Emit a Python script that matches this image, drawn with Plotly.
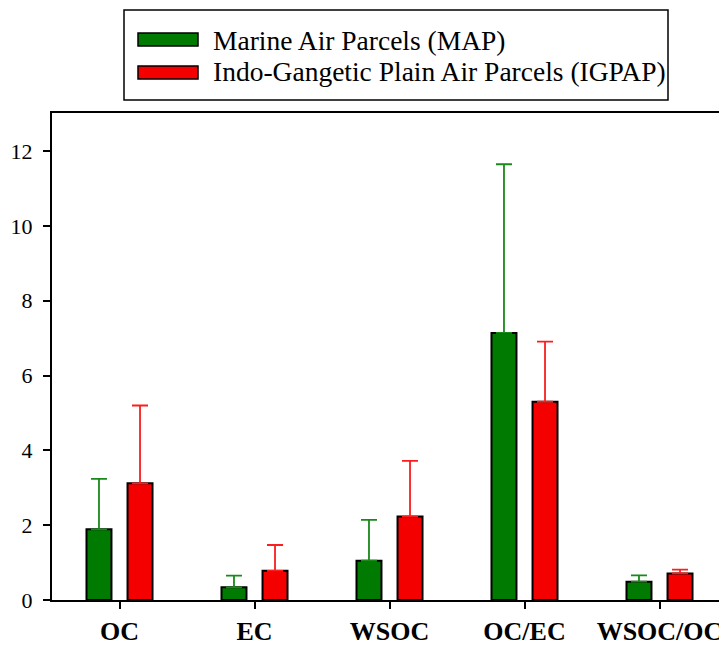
import plotly.graph_objects as go

categories = ["OC", "EC", "WSOC", "OC/EC", "WSOC/OC"]
map_values = [1.89, 0.34, 1.05, 7.14, 0.49]
map_errors = [1.35, 0.31, 1.09, 4.51, 0.17]
igpap_values = [3.12, 0.78, 2.23, 5.30, 0.71]
igpap_errors = [2.08, 0.69, 1.49, 1.61, 0.10]
series_names = ["Marine Air Parcels (MAP)", "Indo-Gangetic Plain Air Parcels (IGPAP)"]
y_ticks = [0, 2, 4, 6, 8, 10, 12]

GREEN = "rgb(0,122,0)"
RED = "rgb(245,0,0)"
FONT = "Liberation Serif, Times New Roman, serif"

x_idx = list(range(len(categories)))
bw = 0.185
sep = 0.152

fig = go.Figure()
fig.add_trace(go.Bar(
    x=x_idx, y=map_values, width=bw, offset=-sep - bw / 2,
    marker=dict(color=GREEN, line=dict(color="black", width=2)),
    error_y=dict(type="data", symmetric=False, array=map_errors,
                 arrayminus=[0] * len(map_errors),
                 color="rgb(25,138,25)", thickness=1.8, width=8),
    name=series_names[0], showlegend=False,
))
fig.add_trace(go.Bar(
    x=x_idx, y=igpap_values, width=bw, offset=sep - bw / 2,
    marker=dict(color=RED, line=dict(color="black", width=2)),
    error_y=dict(type="data", symmetric=False, array=igpap_errors,
                 arrayminus=[0] * len(igpap_errors),
                 color="rgb(250,30,30)", thickness=1.8, width=8),
    name=series_names[1], showlegend=False,
))

# page has an 8px body margin; figure is 719x642 so it ends at 727x650
OFF = 8
W, H = 727 - OFF, 650 - OFF
# plot area in page pixels: x 52..727, y 113..600
L, R, T, B = 52, 727, 113, 600
def px(xp):
    return (xp - L) / (R - L)
def py(yp):
    return (B - yp) / (B - T)

shapes = [
    dict(type="rect", xref="paper", yref="paper",
         x0=px(124), x1=px(668), y0=py(100), y1=py(10),
         line=dict(color="black", width=1.5), fillcolor="white"),
    dict(type="rect", xref="paper", yref="paper",
         x0=px(138), x1=px(198), y0=py(46), y1=py(33),
         line=dict(color="black", width=1.5), fillcolor=GREEN),
    dict(type="rect", xref="paper", yref="paper",
         x0=px(138), x1=px(198), y0=py(79), y1=py(66),
         line=dict(color="black", width=1.5), fillcolor=RED),
]
annotations = [
    dict(xref="paper", yref="paper", x=px(211), y=py(40), text=series_names[0],
         showarrow=False, xanchor="left", yanchor="middle",
         font=dict(family=FONT, size=27.5, color="black")),
    dict(xref="paper", yref="paper", x=px(211), y=py(72), text=series_names[1],
         showarrow=False, xanchor="left", yanchor="middle",
         font=dict(family=FONT, size=27.5, color="black")),
]

fig.update_layout(
    width=W, height=H,
    margin=dict(l=L - OFF, r=0, t=T - OFF, b=H - (B - OFF), pad=0),
    plot_bgcolor="white", paper_bgcolor="white",
    barmode="overlay",
    shapes=shapes, annotations=annotations,
    xaxis=dict(
        range=[-0.5, 4.5], tickmode="array", tickvals=x_idx, ticktext=categories,
        showline=True, linecolor="black", linewidth=2, mirror=True,
        ticks="outside", ticklen=7, tickwidth=2, tickcolor="black",
        showgrid=False, zeroline=False,
        tickfont=dict(family=FONT, size=26, color="black", weight="bold"),
    ),
    yaxis=dict(
        range=[0, 13.02], tickmode="array", tickvals=y_ticks,
        showline=True, linecolor="black", linewidth=2, mirror=False,
        ticks="outside", ticklen=7, tickwidth=2, tickcolor="black",
        showgrid=False, zeroline=False, ticklabelstandoff=6,
        tickfont=dict(family=FONT, size=22, color="black"),
    ),
)

fig.write_html("out.html")
